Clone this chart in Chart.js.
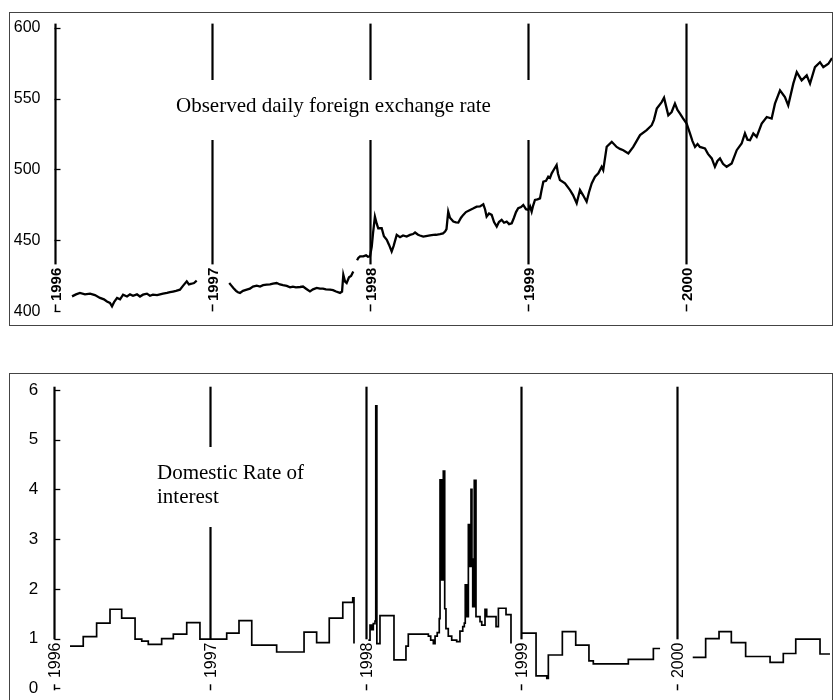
<!DOCTYPE html>
<html>
<head>
<meta charset="utf-8">
<script src="https://cdn.jsdelivr.net/npm/chart.js@4.4.1/dist/chart.umd.min.js"></script>
<style>
  html, body { margin: 0; padding: 0; background: #fff; width: 833px; height: 700px; overflow: hidden; position: relative; }
  .frame { position: absolute; box-sizing: border-box; border: 1px solid #444; }
  canvas { position: absolute; left: 0; }
</style>
</head>
<body>
<div class="frame" style="left:9px;top:12px;width:824px;height:314px;"></div>
<div class="frame" style="left:9px;top:373px;width:824px;height:400px;"></div>
<canvas id="top" width="833" height="335" style="top:0px;width:833px;height:335px;"></canvas>
<canvas id="bottom" width="833" height="400" style="top:340px;width:833px;height:400px;"></canvas>
<script>
// ---------- DATA ----------
const YEAR_MARKS = [1996, 1997, 1998, 1999, 2000];
const YEAR_LABELS = ['1996', '1997', '1998', '1999', '2000'];
const TOP_TICKS = [400, 450, 500, 550, 600];
const BOTTOM_TICKS = [0, 1, 2, 3, 4, 5, 6];
const TOP_TITLE = ['Observed daily foreign exchange rate'];
const BOTTOM_TITLE = ['Domestic Rate of', 'interest'];

// Observed daily foreign exchange rate (decimal year, value)
const FX_YEARS = [
  1996.111, 1996.136, 1996.161, 1996.193, 1996.225, 1996.256, 1996.288, 1996.313, 1996.332, 1996.351,
  1996.364, 1996.377, 1996.396, 1996.415, 1996.434, 1996.459, 1996.478, 1996.497, 1996.522, 1996.541,
  1996.560, 1996.585, 1996.604, 1996.623, 1996.649, 1996.668, 1996.687, 1996.712, 1996.731, 1996.750,
  1996.769, 1996.794, 1996.813, 1996.837, 1996.851, 1996.868, 1996.883, 1996.900, 1997.000, 1997.106,
  1997.117, 1997.132, 1997.149, 1997.161, 1997.174, 1997.193, 1997.217, 1997.237, 1997.256, 1997.280,
  1997.301, 1997.320, 1997.343, 1997.364, 1997.383, 1997.406, 1997.427, 1997.446, 1997.470, 1997.491,
  1997.509, 1997.528, 1997.554, 1997.573, 1997.592, 1997.617, 1997.636, 1997.660, 1997.680, 1997.699,
  1997.718, 1997.744, 1997.763, 1997.782, 1997.807, 1997.820, 1997.828, 1997.839, 1997.849, 1997.864,
  1997.877, 1997.891, 1997.903, 1997.915, 1997.923, 1997.934, 1997.954, 1997.972, 1997.984, 1997.997,
  1998.008, 1998.016, 1998.028, 1998.039, 1998.049, 1998.071, 1998.085, 1998.103, 1998.117, 1998.134,
  1998.146, 1998.166, 1998.187, 1998.206, 1998.229, 1998.250, 1998.269, 1998.282, 1998.301, 1998.313,
  1998.334, 1998.351, 1998.377, 1998.398, 1998.415, 1998.440, 1998.459, 1998.472, 1998.481, 1998.492,
  1998.503, 1998.524, 1998.541, 1998.556, 1998.573, 1998.587, 1998.604, 1998.630, 1998.649, 1998.672,
  1998.693, 1998.714, 1998.725, 1998.735, 1998.750, 1998.767, 1998.782, 1998.799, 1998.813, 1998.830,
  1998.845, 1998.862, 1998.877, 1998.894, 1998.908, 1998.921, 1998.935, 1998.953, 1998.967, 1998.984,
  1998.999, 1999.010, 1999.020, 1999.028, 1999.041, 1999.057, 1999.073, 1999.082, 1999.094, 1999.111,
  1999.125, 1999.136, 1999.147, 1999.161, 1999.178, 1999.187, 1999.199, 1999.231, 1999.263, 1999.282,
  1999.305, 1999.326, 1999.345, 1999.368, 1999.383, 1999.400, 1999.421, 1999.442, 1999.463, 1999.473,
  1999.495, 1999.527, 1999.558, 1999.579, 1999.600, 1999.632, 1999.663, 1999.684, 1999.706, 1999.748,
  1999.780, 1999.794, 1999.812, 1999.843, 1999.858, 1999.870, 1999.885, 1999.906, 1999.927, 1999.943,
  1999.959, 1999.978, 2000.001, 2000.022, 2000.038, 2000.054, 2000.070, 2000.085, 2000.117, 2000.136,
  2000.160, 2000.180, 2000.196, 2000.212, 2000.231, 2000.254, 2000.286, 2000.318, 2000.349, 2000.370,
  2000.386, 2000.402, 2000.423, 2000.444, 2000.476, 2000.508, 2000.539, 2000.560, 2000.592, 2000.623,
  2000.644, 2000.676, 2000.698, 2000.729, 2000.761, 2000.782, 2000.813, 2000.845, 2000.866, 2000.898,
  2000.921
];
const FX_RATE = [
  410.6, 412.0, 413.0, 412.0, 412.5, 411.5, 409.5, 408.5, 407.0, 406.0,
  403.6, 406.5, 409.5, 408.5, 411.8, 410.5, 412.0, 411.0, 412.0, 410.5,
  411.8, 412.5, 411.0, 411.8, 411.5, 412.0, 412.5, 413.0, 413.5, 414.0,
  414.5, 415.3, 418.0, 421.2, 419.0, 419.5, 420.0, 421.6, null, 420.0,
  418.5, 416.5, 414.5, 413.5, 413.0, 414.5, 415.3, 416.0, 417.5, 418.1,
  417.5, 418.5, 418.8, 419.0, 419.5, 420.0, 419.0, 418.5, 418.0, 417.0,
  417.5, 417.0, 417.2, 417.5, 416.0, 414.1, 415.5, 416.5, 416.0, 416.0,
  415.5, 415.3, 415.0, 414.0, 413.0, 414.0, 425.8, 421.0, 420.0, 424.0,
  425.0, 428.2, null, 436.0, 437.6, 438.8, 438.8, 439.5, 438.5, 438.8,
  445.7, 455.0, 466.8, 462.0, 458.6, 458.6, 453.0, 450.4, 447.0, 442.2,
  446.0, 453.9, 452.3, 453.5, 452.7, 453.9, 454.5, 455.6, 454.0, 453.5,
  452.7, 453.0, 453.5, 453.9, 454.0, 454.5, 455.0, 456.3, 458.0, 470.3,
  466.0, 463.3, 462.8, 462.6, 466.0, 468.0, 470.0, 471.5, 472.5, 473.8,
  474.0, 475.5, 472.0, 466.8, 469.0, 468.0, 463.0, 459.8, 463.0, 464.5,
  462.5, 463.3, 461.5, 462.1, 466.0, 470.0, 472.7, 473.5, 475.0, 472.0,
  471.5, 474.0, 470.3, 474.0, 478.5, 479.0, 479.7, 485.0, 491.4, 492.0,
  494.9, 494.0, 497.3, 500.0, 503.1, 497.0, 492.6, 490.2, 485.5, 482.0,
  476.2, 485.5, 482.0, 477.3, 484.0, 490.2, 494.9, 497.3, 501.9, 499.6,
  516.0, 519.5, 515.9, 514.5, 513.6, 511.3, 515.9, 520.0, 524.2, 527.7,
  531.2, 535.0, 542.9, 547.5, 550.6, 545.0, 538.2, 540.5, 546.4, 542.0,
  539.4, 536.0, 532.4, 525.4, 520.0, 515.9, 518.0, 515.9, 514.8, 511.0,
  507.8, 501.9, 506.0, 507.8, 504.0, 501.9, 504.3, 513.6, 518.3, 525.4,
  521.0, 520.6, 525.4, 523.0, 532.4, 537.0, 535.9, 546.4, 555.8, 551.1,
  545.2, 560.5, 568.6, 562.8, 566.3, 560.5, 572.1, 575.6, 572.1, 574.5,
  578.5
];

// Domestic rate of interest (decimal year where a level starts, level)
const IR_YEARS = [
  1996.101, 1996.186, 1996.272, 1996.358, 1996.433, 1996.519, 1996.562, 1996.604, 1996.690, 1996.765,
  1996.851, 1996.936, 1997.108, 1997.187, 1997.269, 1997.429, 1997.605, 1997.686, 1997.767, 1997.854,
  1997.918, 1997.926, 1997.970, 1998.018, 1998.029, 1998.040, 1998.050, 1998.061, 1998.066, 1998.073,
  1998.093, 1998.183, 1998.260, 1998.275, 1998.404, 1998.419, 1998.436, 1998.447, 1998.461, 1998.474,
  1998.479, 1998.490, 1998.500, 1998.509, 1998.517, 1998.532, 1998.554, 1998.586, 1998.607, 1998.625,
  1998.635, 1998.641, 1998.650, 1998.661, 1998.670, 1998.678, 1998.684, 1998.689, 1998.699, 1998.710,
  1998.736, 1998.747, 1998.768, 1998.779, 1998.839, 1998.854, 1998.903, 1998.935, 1998.970, 1999.004,
  1999.096, 1999.165, 1999.175, 1999.265, 1999.351, 1999.436, 1999.464, 1999.689, 1999.850, 1999.893,
  2000.000, 2000.103, 2000.186, 2000.272, 2000.351, 2000.443, 2000.600, 2000.685, 2000.765, 2000.921,
  2000.985
];
const IR_RATE = [
  0.85, 1.04, 1.31, 1.59, 1.41, 0.99, 0.95, 0.885, 1.00, 1.09,
  1.32, 0.99, 1.11, 1.36, 0.87, 0.73, 1.13, 0.92, 1.41, 1.73,
  1.82, 0.90, null, 0.97, 1.27, 1.18, 1.30, 1.35, 5.68, 0.90,
  1.46, 0.57, 0.85, 1.09, 1.05, 0.97, 0.90, 1.05, 1.12, 1.40,
  4.19, 2.18, 4.37, 1.60, 1.20, 1.05, 0.97, 0.94, 1.15, 1.24,
  1.31, 2.08, 1.44, 3.29, 2.45, 4.00, 2.60, 1.64, 4.18, 1.44,
  1.34, 1.27, 1.59, 1.44, 1.24, 1.61, 1.48, 0.90, null, 1.11,
  0.25, 0.20, 0.67, 1.14, 0.87, 0.55, 0.49, 0.58, 0.80, 0.80,
  null, 0.62, 1.00, 1.14, 0.92, 0.64, 0.52, 0.70, 0.99, 0.69,
  0.69
];

// ---------- DECORATION PLUGIN ----------
const decor = {
  id: 'decor',
  beforeDatasetsDraw(chart, args, o) {
    const ctx = chart.ctx, xs = chart.scales.x, ys = chart.scales.y, ca = chart.chartArea;
    ctx.save();
    YEAR_MARKS.forEach((yr, i) => {
      const x = Math.round(xs.getPixelForValue(yr)) + 0.5;
      ctx.strokeStyle = '#000';
      ctx.lineWidth = o.yearLineWidth;
      ctx.beginPath();
      ctx.moveTo(x, ca.top);
      ctx.lineTo(x, ca.bottom - o.lineGap);
      ctx.stroke();
      ctx.lineWidth = 1.5;
      ctx.beginPath();
      ctx.moveTo(x, ca.bottom - o.dashLen);
      ctx.lineTo(x, ca.bottom + o.dashExtra);
      ctx.stroke();
      ctx.save();
      ctx.translate(x, ca.bottom - o.labelOffset);
      ctx.rotate(-Math.PI / 2);
      ctx.font = o.labelFont;
      ctx.fillStyle = '#000';
      ctx.textAlign = 'center';
      ctx.textBaseline = 'middle';
      ctx.fillText(YEAR_LABELS[i], 0, 1);
      ctx.restore();
    });
    ctx.strokeStyle = '#000';
    ctx.lineWidth = 1.3;
    ys.ticks.forEach(t => {
      const y = Math.round(ys.getPixelForValue(t.value)) + 0.5;
      ctx.beginPath();
      ctx.moveTo(ca.left, y);
      ctx.lineTo(ca.left + 6, y);
      ctx.stroke();
    });
    ctx.fillStyle = '#fff';
    ctx.fillRect(o.box[0], o.box[1], o.box[2], o.box[3]);
    ctx.fillStyle = '#000';
    ctx.font = o.titleFont;
    ctx.textAlign = 'left';
    ctx.textBaseline = 'alphabetic';
    o.title.forEach((line, k) => ctx.fillText(line, o.titleX, o.titleY + k * o.titleLead));
    ctx.restore();
  }
};

function makeChart(id, xs, ys, cfg) {
  return new Chart(document.getElementById(id), {
    type: 'line',
    data: {
      datasets: [{
        data: xs.map((x, i) => ({ x: x, y: ys[i] })),
        borderColor: '#000',
        borderWidth: cfg.lineWidth,
        pointRadius: 0,
        tension: 0,
        fill: false,
        spanGaps: false,
        stepped: cfg.stepped
      }]
    },
    options: {
      responsive: false,
      maintainAspectRatio: false,
      animation: false,
      devicePixelRatio: 1,
      layout: { padding: cfg.padding },
      plugins: { legend: { display: false }, tooltip: { enabled: false }, decor: cfg.decor },
      scales: {
        x: { type: 'linear', min: cfg.xMin, max: cfg.xMax, display: false },
        y: {
          type: 'linear', min: cfg.yMin, max: cfg.yMax,
          afterBuildTicks: s => { s.ticks = cfg.ticks.map(v => ({ value: v })); },
          afterFit: s => { s.width = cfg.axisWidth; },
          border: { display: false },
          grid: { display: false, drawTicks: false },
          ticks: {
            padding: cfg.tickPad,
            color: '#000',
            font: { family: "'Liberation Sans', Arial, sans-serif", size: cfg.tickSize },
            callback: v => String(v)
          }
        }
      }
    },
    plugins: [decor]
  });
}

makeChart('top', FX_YEARS, FX_RATE, {
  lineWidth: 2.3, stepped: false,
  padding: { top: 23, bottom: 23, left: 0, right: 1 },
  xMin: 1996, xMax: 2000.921, yMin: 400, yMax: 602.8,
  ticks: TOP_TICKS, axisWidth: 54.5, tickPad: 14, tickSize: 16,
  decor: {
    yearLineWidth: 2.2, lineGap: 47, dashLen: 7, dashExtra: 0, labelOffset: 27,
    labelFont: "bold 15px 'Liberation Sans', Arial, sans-serif",
    box: [150, 80, 395, 60], title: TOP_TITLE, titleX: 176, titleY: 111.5, titleLead: 0,
    titleFont: "21px 'Liberation Serif', 'Times New Roman', serif"
  }
});

makeChart('bottom', IR_YEARS, IR_RATE, {
  lineWidth: 1.7, stepped: true,
  padding: { top: 46.7, bottom: 51.7, left: 0, right: 1 },
  xMin: 1996, xMax: 2000.998, yMin: 0, yMax: 6.066,
  ticks: BOTTOM_TICKS, axisWidth: 54.3, tickPad: 16, tickSize: 17,
  decor: {
    yearLineWidth: 2.2, lineGap: 49, dashLen: 4, dashExtra: 2, labelOffset: 28,
    labelFont: "16px 'Liberation Sans', Arial, sans-serif",
    box: [140, 107, 190, 80], title: BOTTOM_TITLE, titleX: 157, titleY: 139.3, titleLead: 23.4,
    titleFont: "21px 'Liberation Serif', 'Times New Roman', serif"
  }
});
</script>
</body>
</html>
